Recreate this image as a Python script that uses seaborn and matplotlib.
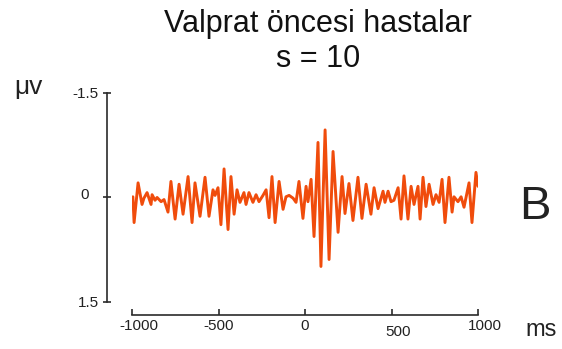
import numpy as np
import pandas as pd
import matplotlib
matplotlib.use("Agg")
import matplotlib.pyplot as plt
import matplotlib.transforms as mtransforms
import seaborn as sns

# ---------------- DATA ---------------- #

# peaks / troughs of the averaged trace
time_ms = [
    -995, -988, -965, -942, -931, -913, -890, -884, -867, -855,
    -832, -815, -792, -775, -751, -728, -705, -676, -653, -636,
    -607, -578, -555, -532, -520, -503, -486, -468, -445, -428,
    -410, -393, -376, -353, -341, -324, -301, -283, -266, -243,
    -225, -208, -191, -173, -150, -127, -110, -92, -69, -52,
    -35, -12, 6, 17, 35, 52, 75, 92, 116, 139,
    162, 191, 214, 231, 254, 277, 306, 329, 353, 381,
    399, 422, 451, 462, 480, 497, 514, 538, 555, 572,
    595, 613, 630, 653, 665, 682, 699, 717, 740, 757,
    775, 792, 809, 832, 850, 861, 884, 902, 919, 948,
    965, 988, 1000,
]
amplitude_uv = [
    -0.01, 0.36, -0.21, 0.10, 0.01, -0.07, 0.10, -0.04, 0.04, 0.00,
    0.06, 0.03, 0.21, -0.23, 0.31, -0.19, 0.24, -0.30, 0.36, -0.21,
    0.27, -0.29, 0.27, -0.11, -0.03, -0.14, 0.39, -0.41, 0.46, -0.30,
    0.24, -0.11, 0.07, -0.07, 0.10, -0.07, 0.07, -0.04, 0.06, -0.03,
    -0.11, 0.29, -0.30, 0.36, -0.23, 0.17, -0.01, -0.03, 0.01, 0.07,
    -0.23, 0.30, -0.16, 0.06, -0.26, 0.56, -0.79, 0.99, -0.97, 0.89,
    -0.66, 0.50, -0.30, 0.23, -0.20, 0.33, -0.29, 0.30, -0.19, 0.24,
    -0.14, 0.16, -0.09, 0.07, -0.09, 0.06, 0.04, -0.14, 0.31, -0.31,
    0.31, -0.16, 0.10, -0.16, 0.31, -0.29, 0.13, -0.19, 0.10, -0.04,
    0.07, -0.26, 0.36, -0.29, 0.21, -0.01, 0.06, -0.01, 0.14, -0.21,
    0.36, -0.36, -0.16,
]

x_ticks = [-1000, -500, 0, 500, 1000]
x_tick_labels = ["-1000", "-500", "0", "500", "1000"]
y_ticks = [-1.5, 0, 1.5]
y_tick_labels = ["-1.5", "0", "1.5"]

title_text = "Valprat öncesi hastalar\ns = 10"
panel_letter = "B"

df = pd.DataFrame({"ms": time_ms, "uv": amplitude_uv})

# ---------------- STYLE ---------------- #

sns.set_theme(style="white")
plt.rcParams["font.family"] = ["Liberation Sans", "DejaVu Sans"]

TRACE_COLOR = "#F04C0C"
AXIS_COLOR = "#2b2b2b"
TEXT_COLOR = "#222222"

# ---------------- PLOT ---------------- #

fig = plt.figure(figsize=(5.62, 3.49), dpi=100)
ax = fig.add_axes([0.2349, 0.1347, 0.6157, 0.5989])

sns.lineplot(data=df, x="ms", y="uv", color=TRACE_COLOR, linewidth=2.1, ax=ax)

ax.set_xlim(-1000, 1000)
ax.set_ylim(1.5, -1.5)
ax.set_xticks(x_ticks)
ax.set_xticklabels(x_tick_labels, fontsize=16)
ax.set_yticks(y_ticks)
ax.set_yticklabels(y_tick_labels, fontsize=16)
ax.set_xlabel("")
ax.set_ylabel("")

sns.despine(ax=ax, offset={"left": 18, "bottom": 9.5})
for side in ["left", "bottom"]:
    ax.spines[side].set_color(AXIS_COLOR)
    ax.spines[side].set_linewidth(1.2)

ax.tick_params(axis="x", direction="in", length=4.5, width=1.2,
               color=AXIS_COLOR, pad=3, labelcolor=TEXT_COLOR)
ax.tick_params(axis="y", direction="inout", length=6, width=1.2,
               color=AXIS_COLOR, pad=3, labelcolor=TEXT_COLOR)
ax.tick_params(bottom=True, left=True)

# the original labels sit a little off their ticks
x_label_shift = {"-1000": (5, 0), "500": (5, -4), "1000": (5, 0)}
for lab in ax.get_xticklabels():
    dx, dy = x_label_shift.get(lab.get_text(), (0, 0))
    lab.set_transform(lab.get_transform() +
                      mtransforms.ScaledTranslation(dx / 72, dy / 72, fig.dpi_scale_trans))
for lab in ax.get_yticklabels():
    if lab.get_text() == "0":
        lab.set_transform(lab.get_transform() +
                          mtransforms.ScaledTranslation(-7 / 72, 3 / 72, fig.dpi_scale_trans))

# ---------------- TEXT ---------------- #

fig.text(318 / 562, 1 - 9 / 349, title_text, ha="center", va="top",
         fontsize=22, linespacing=1.22, color="#111111")
fig.text(28 / 562, 1 - 87 / 349, "μv", ha="center", va="center",
         fontsize=19, color=TEXT_COLOR)
fig.text(541 / 562, 1 - 330 / 349, "ms", ha="center", va="center",
         fontsize=17, color=TEXT_COLOR)
fig.text(535 / 562, 1 - 207 / 349, panel_letter, ha="center", va="center",
         fontsize=34, color=TEXT_COLOR)

fig.savefig("out.png", dpi=100, facecolor="white")
